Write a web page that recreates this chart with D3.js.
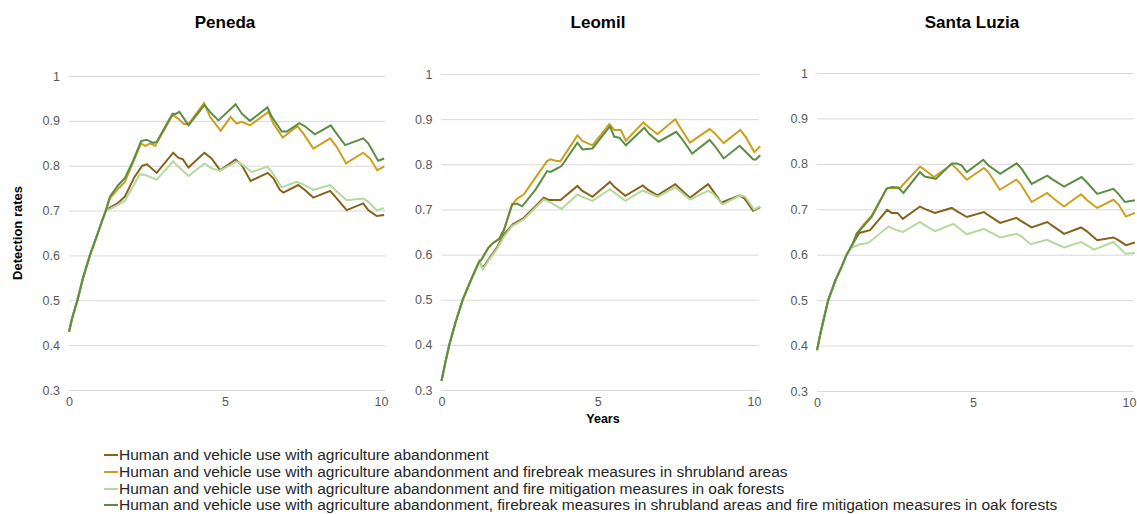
<!DOCTYPE html>
<html><head><meta charset="utf-8">
<script src="https://cdn.jsdelivr.net/npm/d3@7"></script>
<style>
body{margin:0;background:#fff;}
svg{font-family:"Liberation Sans",Arial,sans-serif;}
</style></head>
<body><svg id="c" width="1137" height="514"></svg>
<script>
// ---------- data ----------
const panelTitles = ["Peneda", "Leomil", "Santa Luzia"];
const seriesNames = [
  "Human and vehicle use with agriculture abandonment",
  "Human and vehicle use with agriculture abandonment and firebreak measures in shrubland areas",
  "Human and vehicle use with agriculture abandonment and fire mitigation measures in oak forests",
  "Human and vehicle use with agriculture abandonment, firebreak measures in shrubland areas and fire mitigation measures in oak forests"
];
const seriesColors = ["#85631a", "#cc9f1c", "#b3d99d", "#5b8d43"];
const yTicks = [0.3, 0.4, 0.5, 0.6, 0.7, 0.8, 0.9, 1];
const xTicks = [0, 5, 10];

// Peneda
const penedaStart = [[0,0.43],[0.1,0.46],[0.27,0.5],[0.45,0.55],[0.67,0.6],[0.9,0.645],[1.05,0.675],[1.18,0.70]];
const penedaS1 = [[1.3,0.706],[1.55,0.716],[1.79,0.731],[2.1,0.775],[2.35,0.800],[2.5,0.803],[2.81,0.784],[3.34,0.829],[3.5,0.818],[3.65,0.814],[3.83,0.796],[4.34,0.829],[4.57,0.816],[4.84,0.790],[5.34,0.814],[5.54,0.801],[5.82,0.766],[6.37,0.784],[6.55,0.772],[6.76,0.746],[6.87,0.740],[7.35,0.757],[7.56,0.746],[7.83,0.729],[8.37,0.744],[8.53,0.731],[8.90,0.701],[9.43,0.716],[9.59,0.701],[9.86,0.688],[10.1,0.690]];
const penedaS2 = [[1.31,0.727],[1.61,0.751],[1.79,0.764],[2.31,0.850],[2.44,0.844],[2.6,0.850],[2.76,0.844],[3.32,0.913],[3.5,0.905],[3.68,0.893],[3.83,0.893],[4.33,0.940],[4.52,0.909],[4.86,0.878],[5.18,0.909],[5.37,0.894],[5.54,0.898],[5.8,0.890],[6.39,0.920],[6.55,0.894],[6.85,0.863],[7.32,0.888],[7.51,0.872],[7.83,0.838],[8.37,0.861],[8.58,0.842],[8.88,0.805],[9.43,0.829],[9.65,0.816],[9.88,0.790],[10.1,0.798]];
const penedaS3 = [[1.3,0.703],[1.55,0.712],[1.79,0.722],[2.27,0.781],[2.49,0.778],[2.81,0.769],[3.34,0.810],[3.5,0.798],[3.83,0.777],[4.34,0.805],[4.57,0.794],[4.84,0.789],[5.37,0.809],[5.54,0.803],[5.86,0.786],[6.36,0.798],[6.5,0.786],[6.82,0.752],[7.3,0.764],[7.46,0.760],[7.83,0.746],[8.37,0.757],[8.53,0.746],[8.9,0.723],[9.43,0.727],[9.59,0.720],[9.86,0.701],[10.1,0.705]];
const penedaS4 = [[1.31,0.731],[1.58,0.757],[1.79,0.772],[2.06,0.812],[2.31,0.855],[2.49,0.858],[2.7,0.851],[2.81,0.853],[3.32,0.916],[3.4,0.915],[3.54,0.92],[3.83,0.890],[4.34,0.935],[4.52,0.920],[4.79,0.901],[5.34,0.937],[5.54,0.916],[5.8,0.900],[6.36,0.930],[6.5,0.909],[6.82,0.876],[6.98,0.876],[7.38,0.895],[7.56,0.888],[7.88,0.870],[8.39,0.890],[8.53,0.876],[8.85,0.846],[9.43,0.861],[9.59,0.850],[9.91,0.811],[10.1,0.816]];

// Leomil
const leomilStart = [[0,0.32],[0.12,0.36],[0.25,0.4],[0.45,0.45],[0.68,0.5],[0.95,0.545],[1.21,0.585]];
const leomilS1 = [[1.32,0.57],[1.59,0.598],[1.77,0.615],[2.0,0.645],[2.28,0.667],[2.63,0.681],[2.95,0.703],[3.27,0.726],[3.43,0.721],[3.81,0.721],[4.35,0.752],[4.51,0.741],[4.83,0.728],[5.39,0.761],[5.53,0.750],[5.88,0.730],[6.44,0.753],[6.6,0.744],[6.91,0.731],[7.48,0.756],[7.66,0.744],[7.95,0.726],[8.53,0.756],[8.69,0.741],[8.95,0.715],[9.54,0.731],[9.7,0.724],[9.97,0.697],[10.2,0.705]];
const leomilS2 = [[1.27,0.588],[1.5,0.615],[1.64,0.625],[1.85,0.635],[2.0,0.655],[2.26,0.711],[2.42,0.724],[2.63,0.733],[3.0,0.770],[3.38,0.807],[3.49,0.811],[3.65,0.808],[3.81,0.807],[4.35,0.864],[4.51,0.852],[4.83,0.842],[5.37,0.889],[5.53,0.876],[5.74,0.876],[5.9,0.852],[6.46,0.893],[6.65,0.881],[6.91,0.867],[7.48,0.900],[7.61,0.885],[7.95,0.848],[8.58,0.878],[8.74,0.869],[9.03,0.847],[9.56,0.876],[9.75,0.859],[10.01,0.827],[10.2,0.84]];
const leomilS3 = [[1.32,0.567],[1.56,0.592],[1.77,0.612],[2.0,0.64],[2.26,0.663],[2.63,0.678],[2.95,0.70],[3.27,0.722],[3.49,0.715],[3.84,0.701],[4.35,0.733],[4.51,0.728],[4.83,0.719],[5.39,0.745],[5.88,0.719],[6.44,0.742],[6.91,0.728],[7.48,0.749],[7.95,0.722],[8.53,0.741],[8.69,0.735],[9.0,0.711],[9.56,0.731],[9.72,0.728],[10.0,0.700],[10.2,0.707]];
const leomilS4 = [[1.27,0.588],[1.5,0.615],[1.64,0.625],[1.85,0.635],[2.0,0.655],[2.26,0.711],[2.42,0.713],[2.58,0.707],[3.01,0.744],[3.38,0.785],[3.49,0.783],[3.65,0.789],[3.84,0.796],[4.35,0.848],[4.51,0.833],[4.83,0.835],[5.39,0.884],[5.53,0.861],[5.69,0.859],[5.9,0.842],[6.49,0.881],[6.65,0.867],[6.95,0.850],[7.51,0.872],[7.7,0.856],[8.02,0.824],[8.58,0.854],[8.74,0.841],[9.03,0.813],[9.54,0.841],[9.7,0.830],[9.97,0.811],[10.05,0.810],[10.2,0.82]];

// Santa Luzia
const luziaStart = [[0,0.39],[0.12,0.43],[0.36,0.5],[0.6,0.545],[0.8,0.575],[0.95,0.6],[1.05,0.612]];
const luziaS1 = [[1.16,0.625],[1.35,0.648],[1.7,0.654],[2.25,0.699],[2.39,0.692],[2.58,0.692],[2.75,0.679],[3.3,0.706],[3.45,0.701],[3.78,0.692],[4.32,0.703],[4.48,0.696],[4.8,0.683],[5.35,0.694],[5.49,0.687],[5.87,0.670],[6.39,0.681],[6.52,0.675],[6.88,0.660],[7.38,0.672],[7.52,0.665],[7.92,0.646],[8.46,0.660],[8.64,0.652],[8.98,0.632],[9.5,0.638],[9.66,0.632],[9.9,0.621],[10.19,0.627]];
const luziaS2 = [[1.16,0.626],[1.27,0.646],[1.48,0.665],[1.75,0.686],[2.23,0.745],[2.28,0.747],[2.66,0.747],[3.3,0.794],[3.45,0.787],[3.75,0.771],[4.32,0.799],[4.48,0.789],[4.8,0.765],[5.35,0.791],[5.49,0.782],[5.86,0.743],[6.39,0.765],[6.52,0.756],[6.88,0.716],[7.38,0.736],[7.52,0.727],[7.92,0.706],[8.46,0.733],[8.64,0.721],[8.98,0.703],[9.5,0.721],[9.66,0.711],[9.9,0.684],[10.19,0.692]];
const luziaS3 = [[1.16,0.617],[1.38,0.623],[1.65,0.626],[2.29,0.662],[2.55,0.654],[2.75,0.650],[3.3,0.672],[3.45,0.665],[3.78,0.652],[4.37,0.668],[4.48,0.662],[4.8,0.645],[5.35,0.657],[5.49,0.652],[5.87,0.638],[6.39,0.646],[6.56,0.640],[6.85,0.623],[7.38,0.633],[7.52,0.628],[7.92,0.616],[8.46,0.628],[8.64,0.621],[8.88,0.611],[9.5,0.628],[9.62,0.620],[9.88,0.602],[10.19,0.604]];
const luziaS4 = [[1.16,0.626],[1.27,0.646],[1.48,0.662],[1.75,0.683],[2.23,0.745],[2.39,0.749],[2.6,0.748],[2.77,0.736],[3.3,0.782],[3.45,0.772],[3.81,0.767],[4.32,0.801],[4.48,0.801],[4.64,0.796],[4.8,0.782],[5.33,0.809],[5.49,0.797],[5.87,0.778],[6.4,0.801],[6.56,0.789],[6.88,0.756],[7.38,0.774],[7.52,0.767],[7.92,0.750],[8.48,0.771],[8.64,0.760],[8.98,0.734],[9.5,0.745],[9.66,0.734],[9.87,0.716],[10.19,0.72]];

const panelSeries = [
  [penedaStart.concat(penedaS1), penedaStart.concat(penedaS2), penedaStart.concat(penedaS3), penedaStart.concat(penedaS4)],
  [leomilStart.concat(leomilS1), leomilStart.concat(leomilS2), leomilStart.concat(leomilS3), leomilStart.concat(leomilS4)],
  [luziaStart.concat(luziaS1), luziaStart.concat(luziaS2), luziaStart.concat(luziaS3), luziaStart.concat(luziaS4)]
];

// ---------- layout ----------
const layout = [
  {x0: 69,  x10: 381,  yTop: 76, yBot: 390, titleX: 225},
  {x0: 441.5, x10: 754, yTop: 74, yBot: 390, titleX: 598},
  {x0: 817, x10: 1129, yTop: 73, yBot: 391, titleX: 972}
];

const svg = d3.select("#c");

layout.forEach((L, pi) => {
  const x = d3.scaleLinear().domain([0, 10]).range([L.x0, L.x10]);
  const y = d3.scaleLinear().domain([0.3, 1]).range([L.yBot, L.yTop]);
  const gridEnd = x(10.15);
  const g = svg.append("g");

  const yAxis = d3.axisLeft(y).tickValues(yTicks)
    .tickSize(-(gridEnd - L.x0)).tickPadding(9)
    .tickFormat(d3.format("~g"));
  const ya = g.append("g").attr("transform", `translate(${L.x0},0)`).call(yAxis);
  ya.select(".domain").remove();
  ya.selectAll(".tick line").attr("stroke", "#d9d9d9").attr("stroke-width", 1);
  ya.selectAll(".tick text").attr("fill", "#595959").style("font-size", "12.5px");

  const xAxis = d3.axisBottom(x).tickValues(xTicks).tickSize(0).tickPadding(7).tickFormat(d3.format("d"));
  const xa = g.append("g").attr("transform", `translate(0,${L.yBot})`).call(xAxis);
  xa.select(".domain").remove();
  xa.selectAll(".tick text").attr("fill", "#595959").style("font-size", "12.5px");

  const line = d3.line().x(d => x(d[0])).y(d => y(d[1]));
  panelSeries[pi].forEach((s, si) => {
    g.append("path").datum(s).attr("d", line)
      .attr("fill", "none").attr("stroke", seriesColors[si])
      .attr("stroke-width", 2).attr("stroke-linejoin", "miter");
  });

  svg.append("text").attr("x", L.titleX).attr("y", 28)
    .attr("text-anchor", "middle").style("font-size", "17px").style("font-weight", "bold")
    .attr("fill", "#000").text(panelTitles[pi]);
});

svg.append("text").attr("transform", "translate(22,233) rotate(-90)")
  .attr("text-anchor", "middle").style("font-size", "13px").style("font-weight", "bold")
  .text("Detection rates");
svg.append("text").attr("x", 603).attr("y", 423).attr("text-anchor", "middle")
  .style("font-size", "12.5px").style("font-weight", "bold").text("Years");

const legY = [455, 472, 489, 505];
const lg = svg.append("g");
seriesNames.forEach((n, i) => {
  lg.append("line").attr("x1", 104).attr("x2", 118).attr("y1", legY[i]).attr("y2", legY[i])
    .attr("stroke", seriesColors[i]).attr("stroke-width", 2);
  lg.append("text").attr("x", 119).attr("y", legY[i]).attr("dy", "0.35em")
    .style("font-size", "15.5px").attr("fill", "#262626").text(n);
});
</script></body></html>
